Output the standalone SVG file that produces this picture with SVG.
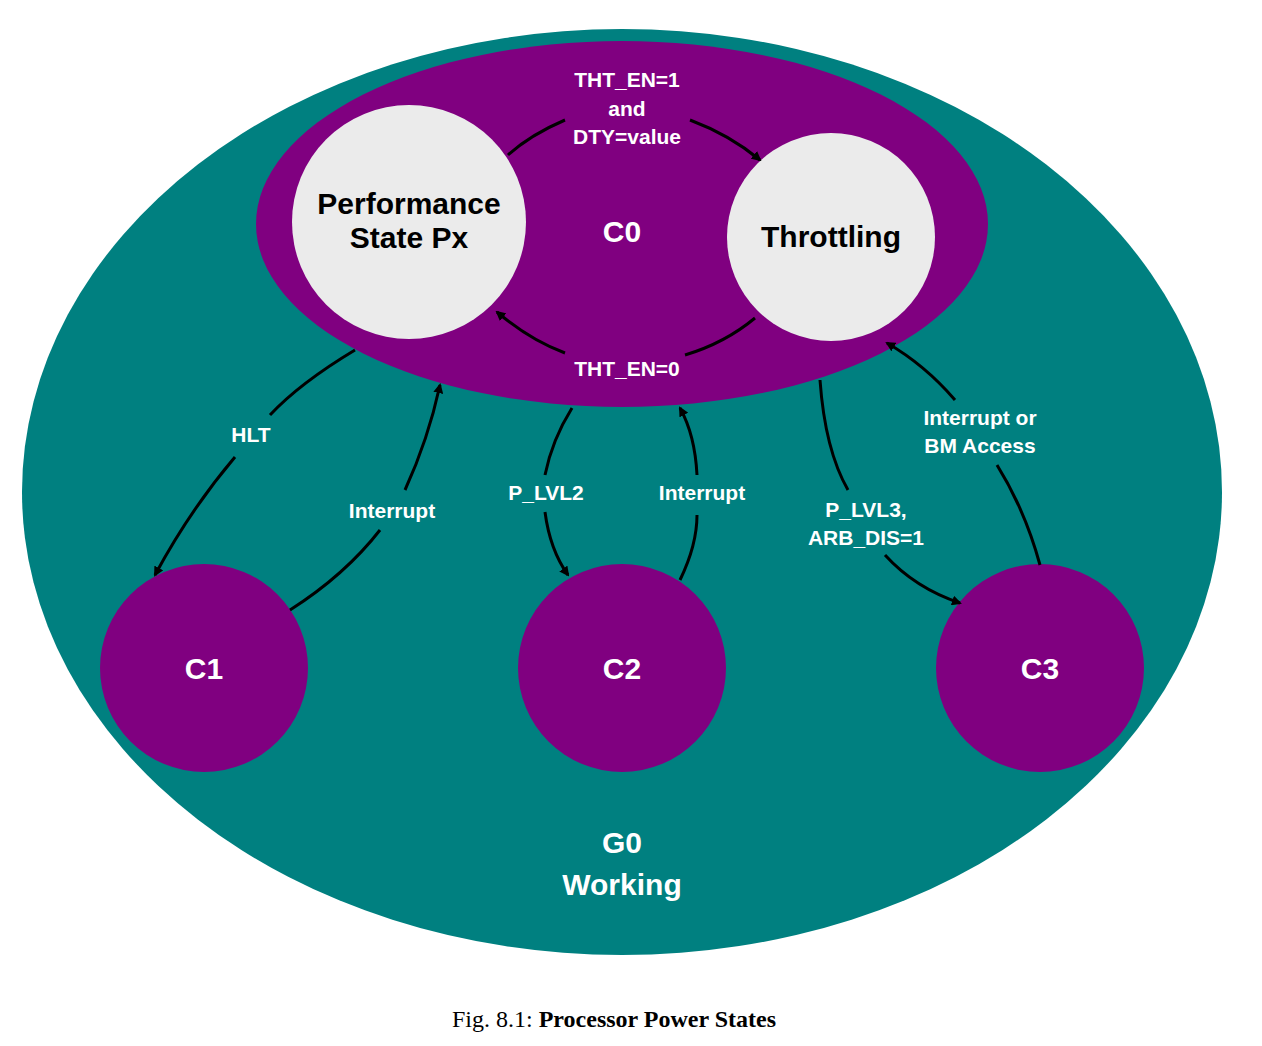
<svg xmlns="http://www.w3.org/2000/svg" width="1262" height="1046" viewBox="0 0 1262 1046">
<defs>
<marker id="ah" markerWidth="10" markerHeight="10" refX="8" refY="5" orient="auto" markerUnits="userSpaceOnUse"><path d="M0,0 L10,5 L0,10 Z" fill="#000"/></marker>
<style>
.c{fill:none;stroke:#000;stroke-width:3}
.a{fill:none;stroke:#000;stroke-width:3;marker-end:url(#ah)}
.l{font-family:"Liberation Sans",Arial,sans-serif;font-weight:bold;font-size:21px;fill:#fff;text-anchor:middle}
.n{font-family:"Liberation Sans",Arial,sans-serif;font-weight:bold;font-size:30px;text-anchor:middle}
</style>
</defs>
<rect width="1262" height="1046" fill="#fff"/>
<g id="G0"><ellipse cx="622" cy="492" rx="600" ry="463" fill="#008080"/>
<text class="n" x="622" y="853" fill="#fff">G0</text><text class="n" x="622" y="895" fill="#fff" font-size="33">Working</text></g>
<g id="C0"><ellipse cx="622" cy="224" rx="366" ry="183" fill="#800080"/><text class="n" x="622" y="242" fill="#fff">C0</text></g>
<g id="Px"><circle cx="409" cy="222" r="117" fill="#ebebeb"/><text class="n" x="409" y="214" font-size="28" fill="#000">Performance</text><text class="n" x="409" y="248" font-size="28" fill="#000">State Px</text></g>
<g id="Thr"><circle cx="831" cy="237" r="104" fill="#ebebeb"/><text class="n" x="831" y="247" font-size="28" fill="#000">Throttling</text></g>
<g id="C1"><circle cx="204" cy="668" r="104" fill="#800080"/><text class="n" x="204" y="679" fill="#fff">C1</text></g>
<g id="C2"><circle cx="622" cy="668" r="104" fill="#800080"/><text class="n" x="622" y="679" fill="#fff">C2</text></g>
<g id="C3"><circle cx="1040" cy="668" r="104" fill="#800080"/><text class="n" x="1040" y="679" fill="#fff">C3</text></g>
<g id="connectors">
<path class="c" d="M508,155 Q530,135 565,120"/><path class="a" d="M690,120 Q730,135 760,160"/>
<path class="c" d="M755,318 Q725,343 685,355"/><path class="a" d="M565,353 Q530,340 497,312"/>
<path class="c" d="M355,350 Q300,383 270,415"/><path class="a" d="M235,457 Q190,510 155,575"/>
<path class="c" d="M290,610 Q345,575 380,530"/><path class="a" d="M405,490 Q428,440 440,385"/>
<path class="c" d="M572,408 Q552,440 545,475"/><path class="a" d="M545,512 Q550,550 568,575"/>
<path class="c" d="M680,580 Q697,545 697,515"/><path class="a" d="M697,475 Q695,435 680,408"/>
<path class="c" d="M820,380 Q825,450 848,490"/><path class="a" d="M885,555 Q915,588 960,603"/>
<path class="c" d="M1040,565 Q1025,510 997,465"/><path class="a" d="M955,400 Q925,365 887,343"/>
<text class="l" x="627" y="87">THT_EN=1</text><text class="l" x="627" y="116">and</text><text class="l" x="627" y="144">DTY=value</text>
<text class="l" x="627" y="376">THT_EN=0</text>
<text class="l" x="251" y="442">HLT</text>
<text class="l" x="392" y="518">Interrupt</text>
<text class="l" x="546" y="500">P_LVL2</text>
<text class="l" x="702" y="500">Interrupt</text>
<text class="l" x="866" y="517">P_LVL3,</text><text class="l" x="866" y="545">ARB_DIS=1</text>
<text class="l" x="980" y="425">Interrupt or</text><text class="l" x="980" y="453">BM Access</text>
</g>
<text x="614" y="1027" font-family="Liberation Serif,serif" font-size="24" text-anchor="middle">Fig. 8.1: <tspan font-weight="bold">Processor Power States</tspan></text>
</svg>
